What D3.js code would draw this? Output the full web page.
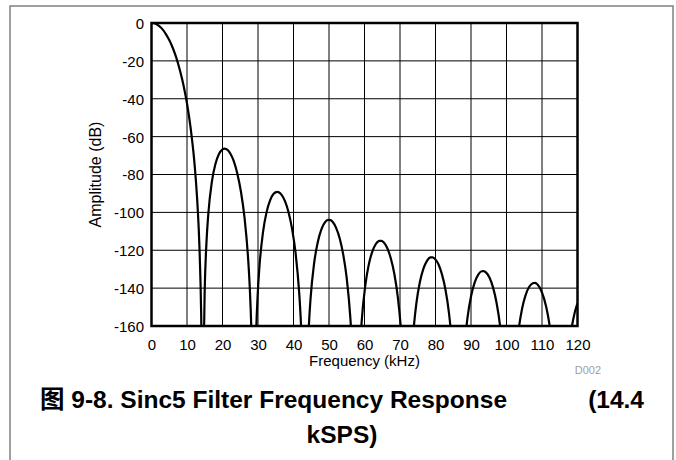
<!DOCTYPE html>
<html>
<head>
<meta charset="utf-8">
<script src="https://cdn.jsdelivr.net/npm/d3@7"></script>
<style>
  html, body { margin: 0; padding: 0; background: #fff; }
  svg { display: block; }
  text { font-family: Arial, "Liberation Sans", Helvetica, sans-serif; }
</style>
</head>
<body>
<svg id="chart" width="676" height="460"></svg>
<script>
// Sinc5 filter magnitude response, 14.4 kSPS output rate
const freqKHz = [
  0, 1, 2, 3, 4, 5, 6, 7, 8, 9, 10, 11, 12, 12.5, 13, 13.5, 14, 14.1,
  14.7, 15.0, 15.5, 16.0, 17.0, 18.0, 19.0, 20.0, 20.5, 21.0, 21.6, 22.2, 23.2, 24.2, 25.2, 26.2, 27.2, 27.7, 28.2, 28.5,
  29.1, 29.4, 29.9, 30.4, 31.4, 32.4, 33.4, 34.4, 35.4, 36.0, 36.6, 37.6, 38.6, 39.6, 40.6, 41.6, 42.1, 42.6, 42.9,
  43.5, 43.8, 44.3, 44.8, 45.8, 46.8, 47.8, 48.8, 49.8, 50.4, 51.0, 52.0, 53.0, 54.0, 55.0, 56.0, 56.5, 57.0, 57.3,
  57.9, 58.2, 58.7, 59.2, 60.2, 61.2, 62.2, 63.2, 64.2, 64.8, 65.4, 66.4, 67.4, 68.4, 69.4, 70.4, 70.9, 71.4, 71.7,
  72.3, 72.6, 73.1, 73.6, 74.6, 75.6, 76.6, 77.6, 78.6, 79.2, 79.8, 80.8, 81.8, 82.8, 83.8, 84.8, 85.3, 85.8, 86.1,
  86.7, 87.0, 87.5, 88.0, 89.0, 90.0, 91.0, 92.0, 93.0, 93.6, 94.2, 95.2, 96.2, 97.2, 98.2, 99.2, 99.7, 100.2, 100.5,
  101.1, 101.4, 101.9, 102.4, 103.4, 104.4, 105.4, 106.4, 107.4, 108.0, 108.6, 109.6, 110.6, 111.6, 112.6, 113.6, 114.1, 114.6, 114.9,
  115.5, 115.8, 116.3, 116.8, 117.8, 118.8, 119.8, 120.0
];
const amplitudeDb = [
  0, -0.3, -1.4, -3.1, -5.7, -9.0, -13.2, -18.4, -24.9, -32.7, -42.5, -55.1, -71.9, -83.1, -97.5, -117.9, -154.5, -167.2,
  -169.0, -139.9, -115.3, -100.9, -83.9, -74.5, -69.2, -66.7, -66.3, -66.5, -67.3, -68.9, -73.1, -79.7, -89.1, -102.7, -123.9, -140.5, -167.3, -197.8,
  -198.7, -169.1, -143.9, -128.8, -110.6, -100.0, -93.7, -90.2, -89.2, -89.5, -90.6, -94.1, -99.9, -108.7, -121.7, -142.4, -158.7, -185.2, -215.5,
  -216.1, -186.4, -160.9, -145.6, -127.0, -116.0, -109.2, -105.4, -104.0, -104.1, -105.0, -108.2, -113.7, -122.2, -134.9, -155.3, -171.5, -197.9, -228.1,
  -228.6, -198.8, -173.1, -157.7, -138.9, -127.6, -120.7, -116.7, -115.0, -115.0, -115.8, -118.8, -124.2, -132.4, -145.0, -165.2, -181.4, -207.7, -237.8,
  -238.2, -208.4, -182.7, -167.2, -148.2, -136.8, -129.7, -125.6, -123.8, -123.8, -124.5, -127.3, -132.6, -140.7, -153.2, -173.3, -189.4, -215.6, -245.8,
  -246.1, -216.2, -190.5, -174.9, -155.8, -144.4, -137.2, -133.0, -131.1, -131.0, -131.7, -134.4, -139.6, -147.7, -160.1, -180.1, -196.2, -222.4, -252.5,
  -252.8, -222.9, -197.1, -181.5, -162.3, -150.8, -143.6, -139.3, -137.4, -137.2, -137.8, -140.6, -145.7, -153.7, -166.0, -186.0, -202.0, -228.2, -258.3,
  -258.5, -228.7, -202.8, -187.2, -168.0, -156.4, -149.1, -148.1
];
const xTicks = [0, 10, 20, 30, 40, 50, 60, 70, 80, 90, 100, 110, 120];
const yTicks = [0, -20, -40, -60, -80, -100, -120, -140, -160];
const xLabel = "Frequency (kHz)";
const yLabel = "Amplitude (dB)";
const figureCode = "D002";
const captionLine1 = "图 9-8. Sinc5 Filter Frequency Response";
const captionLine1b = "(14.4";
const captionLine2 = "kSPS)";

const svg = d3.select("#chart");
const plot = { left: 151.5, right: 577.5, top: 23, bottom: 326 };

const x = d3.scaleLinear().domain([0, 120]).range([plot.left, plot.right]);
const y = d3.scaleLinear().domain([-160, 0]).range([plot.bottom, plot.top]);

// Plain hyphen-minus for negative tick values
const plainNumber = d => String(d);

// Outer figure frame (left, top, right edges)
svg.append("path")
  .attr("d", "M10,460 L10,6 L673,6 L673,460")
  .attr("fill", "none")
  .attr("stroke", "#808080")
  .attr("stroke-width", 1.5);

// Grid
const grid = svg.append("g");
grid.selectAll("line.v").data(xTicks).join("line")
  .attr("class", "v")
  .attr("x1", d => x(d)).attr("x2", d => x(d))
  .attr("y1", plot.top).attr("y2", plot.bottom)
  .attr("stroke", "#000").attr("stroke-width", 1);
grid.selectAll("line.h").data(yTicks).join("line")
  .attr("class", "h")
  .attr("x1", plot.left).attr("x2", plot.right)
  .attr("y1", d => y(d)).attr("y2", d => y(d))
  .attr("stroke", "#000").attr("stroke-width", 1);

// Response curve, clipped to the plotting area
svg.append("clipPath").attr("id", "plotClip")
  .append("rect")
  .attr("x", plot.left).attr("y", plot.top)
  .attr("width", plot.right - plot.left).attr("height", plot.bottom - plot.top);

const points = freqKHz.map((f, i) => [f, amplitudeDb[i]]);
const line = d3.line()
  .x(d => x(d[0]))
  .y(d => y(d[1]))
  .curve(d3.curveMonotoneX);

svg.append("path")
  .datum(points)
  .attr("clip-path", "url(#plotClip)")
  .attr("d", line)
  .attr("fill", "none")
  .attr("stroke", "#000")
  .attr("stroke-width", 2.2)
  .attr("stroke-linejoin", "round");

// Plot border
svg.append("rect")
  .attr("x", plot.left).attr("y", plot.top)
  .attr("width", plot.right - plot.left).attr("height", plot.bottom - plot.top)
  .attr("fill", "none")
  .attr("stroke", "#000")
  .attr("stroke-width", 2.5);

// Axes (labels only, grid supplies the tick lines)
const xAxis = d3.axisBottom(x).tickValues(xTicks).tickSize(0).tickPadding(0).tickFormat(plainNumber);
const gx = svg.append("g").attr("transform", `translate(0,${plot.bottom})`).call(xAxis);
gx.select(".domain").remove();
gx.selectAll("text")
  .attr("dy", null).attr("y", 24)
  .style("font-size", "15px").attr("fill", "#000");

const yAxis = d3.axisLeft(y).tickValues(yTicks).tickSize(0).tickPadding(0).tickFormat(plainNumber);
const gy = svg.append("g").attr("transform", `translate(144,0)`).call(yAxis);
gy.select(".domain").remove();
gy.selectAll("text")
  .attr("dy", "0.36em").attr("x", 0)
  .style("font-size", "15px").attr("fill", "#000");

// Axis titles
svg.append("text")
  .attr("x", (plot.left + plot.right) / 2).attr("y", 366)
  .attr("text-anchor", "middle")
  .style("font-size", "15px")
  .text(xLabel);

svg.append("text")
  .attr("transform", `translate(101,${(plot.top + plot.bottom) / 2}) rotate(-90)`)
  .attr("text-anchor", "middle")
  .style("font-size", "16px")
  .text(yLabel);

svg.append("text")
  .attr("x", 601).attr("y", 374)
  .attr("text-anchor", "end")
  .attr("fill", "#a0a0a0")
  .style("font-size", "11px")
  .text(figureCode);

// Figure caption
const cap = svg.append("g")
  .style("font-weight", "bold")
  .style("font-size", "24.5px");
cap.append("text")
  .attr("x", 40).attr("y", 408)
  .style("font-family", "Arial, 'Liberation Sans', 'Noto Sans CJK SC', sans-serif")
  .text(captionLine1);
cap.append("text")
  .attr("x", 644).attr("y", 408)
  .attr("text-anchor", "end")
  .text(captionLine1b);
cap.append("text")
  .attr("x", 342).attr("y", 443)
  .attr("text-anchor", "middle")
  .text(captionLine2);
</script>
</body>
</html>
